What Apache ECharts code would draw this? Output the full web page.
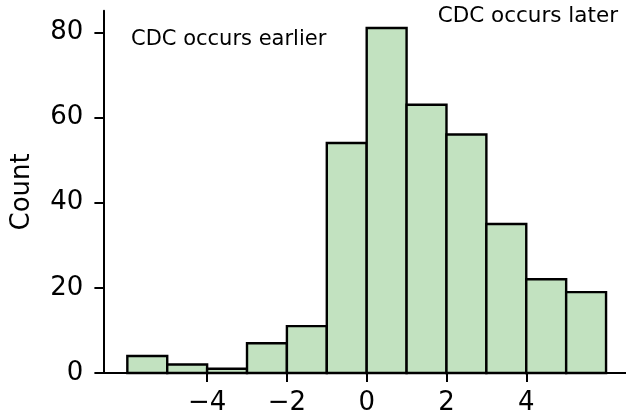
<!DOCTYPE html>
<html>
<head>
<meta charset="utf-8">
<script src="https://cdn.jsdelivr.net/npm/echarts@6/dist/echarts.min.js"></script>
<style>
html,body{margin:0;padding:0;background:#fff;}
#chart{width:626px;height:416px;}
</style>
</head>
<body>
<div id="chart"></div>
<script>
var binEdges = [-6, -5, -4, -3, -2, -1, 0, 1, 2, 3, 4, 5, 6];
var counts = [4, 2, 1, 7, 11, 54, 81, 63, 56, 35, 22, 19];
var xTicks = [-4, -2, 0, 2, 4];
var yTicks = [0, 20, 40, 60, 80];
var yLabel = 'Count';
var noteLeft = 'CDC occurs earlier';
var noteRight = 'CDC occurs later';

var FONT = 'DejaVu Sans';
var data = counts.map(function (c, i) { return [binEdges[i], binEdges[i + 1], c]; });
var fmt = function (v) { return String(v).replace('-', '\u2212'); };

var chart = echarts.init(document.getElementById('chart'), null, {renderer: 'canvas'});
chart.setOption({
  animation: false,
  backgroundColor: '#ffffff',
  grid: {left: 103.4, right: 0, top: 10.8, bottom: 42.7, containLabel: false},
  xAxis: {
    type: 'value', min: -6.6, max: 6.5,
    axisLine: {show: true, onZero: false, lineStyle: {color: '#000', width: 2}},
    axisTick: {show: true, length: 9, lineStyle: {color: '#000', width: 2}, customValues: xTicks},
    axisLabel: {show: true, customValues: xTicks, formatter: fmt, color: '#000', fontFamily: FONT, fontSize: 26, margin: 17},
    splitLine: {show: false}
  },
  yAxis: {
    type: 'value', min: 0, max: 85.05,
    name: yLabel, nameLocation: 'middle', nameGap: 68, nameRotate: 90,
    nameTextStyle: {color: '#000', fontFamily: FONT, fontSize: 26},
    axisLine: {show: true, onZero: false, lineStyle: {color: '#000', width: 2}},
    axisTick: {show: true, length: 9, lineStyle: {color: '#000', width: 2}, customValues: yTicks},
    axisLabel: {show: true, customValues: yTicks, formatter: fmt, color: '#000', fontFamily: FONT, fontSize: 26, margin: 20},
    splitLine: {show: false}
  },
  series: [{
    type: 'custom',
    data: data,
    encode: {x: [0, 1], y: 2},
    renderItem: function (params, api) {
      var p0 = api.coord([api.value(0), 0]);
      var p1 = api.coord([api.value(1), api.value(2)]);
      return {
        type: 'rect',
        shape: {x: p0[0], y: p1[1], width: p1[0] - p0[0], height: p0[1] - p1[1]},
        style: {fill: '#c2e2c0', stroke: '#000', lineWidth: 2.4}
      };
    }
  }],
  graphic: [
    {type: 'text', left: 131, top: 29, style: {text: noteLeft, fill: '#000', font: '21px "DejaVu Sans"'}},
    {type: 'text', right: 8, top: 5, style: {text: noteRight, fill: '#000', font: '21.5px "DejaVu Sans"'}}
  ]
});
</script>
</body>
</html>
